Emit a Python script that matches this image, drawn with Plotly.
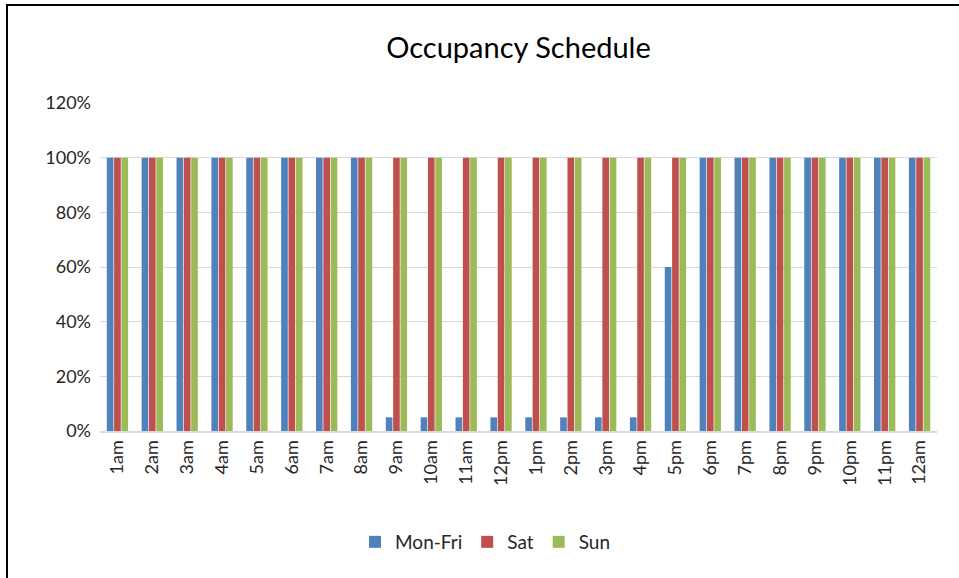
import plotly.graph_objects as go

hours = ["1am", "2am", "3am", "4am", "5am", "6am", "7am", "8am", "9am", "10am", "11am", "12pm",
         "1pm", "2pm", "3pm", "4pm", "5pm", "6pm", "7pm", "8pm", "9pm", "10pm", "11pm", "12am"]
mon_fri = [1.0, 1.0, 1.0, 1.0, 1.0, 1.0, 1.0, 1.0, 0.05, 0.05, 0.05, 0.05,
           0.05, 0.05, 0.05, 0.05, 0.6, 1.0, 1.0, 1.0, 1.0, 1.0, 1.0, 1.0]
sat = [1.0] * 24
sun = [1.0] * 24

series = [("Mon-Fri", mon_fri, "#4F81BD"), ("Sat", sat, "#C0504D"), ("Sun", sun, "#9BBB59")]

fig = go.Figure()
for name, vals, col in series:
    fig.add_trace(go.Bar(x=hours, y=vals, name=name, marker=dict(color=col, line=dict(width=0))))

FONT = "Lato, 'Liberation Sans', sans-serif"
W, H = 959, 578
ml, mr, mt, mb = 100, 22, 103, 147
pw, ph = W - ml - mr, H - mt - mb

def px_to_paper_x(px):
    return (px - ml) / pw

def px_to_paper_y(py):
    return (H - mb - py) / ph

fig.update_layout(
    width=W, height=H,
    margin=dict(l=ml, r=mr, t=mt, b=mb, pad=0),
    paper_bgcolor="white", plot_bgcolor="white",
    font=dict(family=FONT, color="#262626"),
    title=dict(text="Occupancy Schedule", x=0.5, xref="paper", xanchor="center",
               y=1 - 48 / H, yanchor="middle", font=dict(size=29, color="#000000", family=FONT)),
    barmode="group", bargap=0.37, bargroupgap=0.09,
    showlegend=True,
    legend=dict(orientation="h", x=0.46, xanchor="center", y=px_to_paper_y(542), yanchor="middle",
                font=dict(size=19, color="#262626", family=FONT), itemwidth=30, traceorder="normal"),
    xaxis=dict(tickangle=-90, tickfont=dict(size=18, color="#262626"), showgrid=False,
               showline=True, linecolor="#D9D9D9", linewidth=2, ticks="", zeroline=False),
    yaxis=dict(range=[0, 1.2], dtick=0.2, tickformat=".0%", tickfont=dict(size=18, color="#262626"),
               showgrid=True, gridcolor="#D9D9D9", gridwidth=1, zeroline=False, ticks="",
               ticklabelstandoff=8, showline=False),
    shapes=[dict(type="rect", xref="paper", yref="paper",
                 x0=px_to_paper_x(7), x1=px_to_paper_x(990),
                 y0=px_to_paper_y(620), y1=px_to_paper_y(5),
                 line=dict(color="black", width=2), fillcolor="rgba(0,0,0,0)", layer="above")],
)

fig.write_html("out.html", config={"displayModeBar": False},
               post_script="document.body.style.margin='0';document.body.style.overflow='hidden';")
